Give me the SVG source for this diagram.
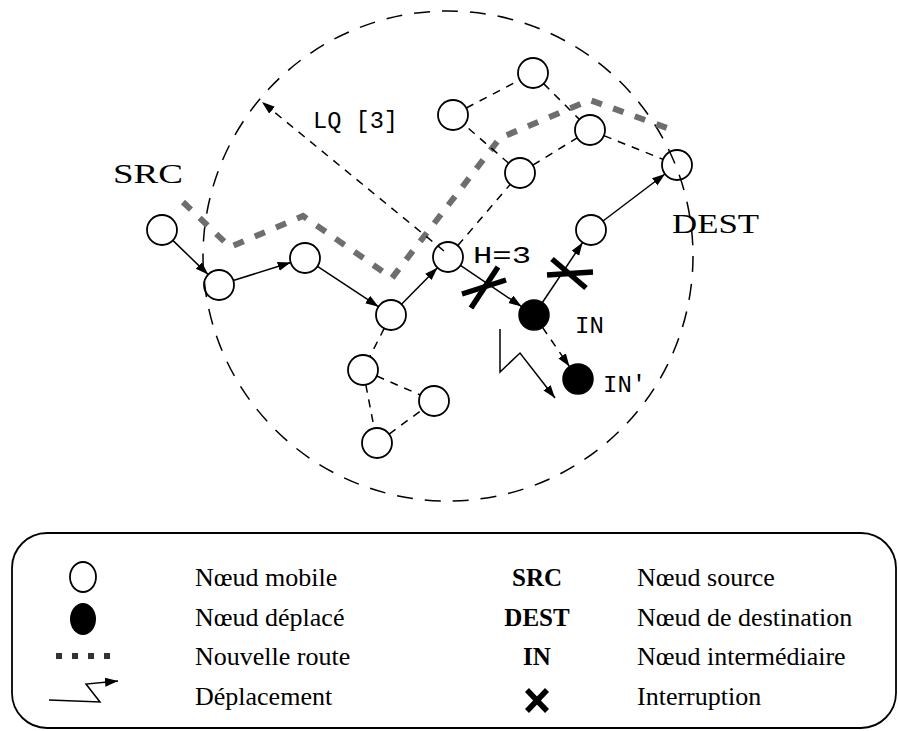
<svg xmlns="http://www.w3.org/2000/svg" width="898" height="731" viewBox="0 0 898 731">
<defs>
<marker id="ah" markerUnits="userSpaceOnUse" markerWidth="14" markerHeight="10" refX="13" refY="4.5" orient="auto">
<path d="M0,0 L13,4.5 L0,9 z" fill="#000"/>
</marker>
</defs>
<style>
.node{fill:none;stroke:#000;stroke-width:1.8}
.moved{fill:#000;stroke:#000;stroke-width:1.5}
.solid{stroke:#000;stroke-width:1.5;fill:none}
.dash{stroke:#000;stroke-width:1.5;fill:none;stroke-dasharray:8 7}
.route{stroke:#6e6e6e;stroke-width:6;fill:none;stroke-dasharray:11 12}
.cut{stroke:#000;stroke-width:5.5;stroke-linecap:butt}
.lbl{font-family:"Liberation Serif","Times New Roman",serif;fill:#000}
.mono{font-family:"Liberation Mono","Courier New",monospace;fill:#000}
.leg{font-family:"Liberation Serif","Times New Roman",serif;font-size:26px;fill:#000}
.legb{font-family:"Liberation Serif","Times New Roman",serif;font-size:25px;font-weight:bold;fill:#000;text-anchor:middle}
</style>
<rect width="898" height="731" fill="#fff"/>

<g id="range">
<circle cx="448" cy="256" r="245" fill="none" stroke="#000" stroke-width="1.5" stroke-dasharray="16 12"/>
</g>

<g id="route">
<path class="route" d="M183,202 L230,247 L303,216 L392,278 L500,138 L590,100 L667,128"/>
</g>

<g id="connectors">
<line class="solid" x1="172.8" y1="240.4" x2="208.2" y2="274.6" marker-end="url(#ah)"/>
<line class="solid" x1="233.3" y1="280.5" x2="290.7" y2="262.5" marker-end="url(#ah)"/>
<line class="solid" x1="317.5" y1="266.3" x2="378.5" y2="306.7" marker-end="url(#ah)"/>
<line class="solid" x1="401.5" y1="304.3" x2="437.5" y2="267.7" marker-end="url(#ah)"/>
<line class="solid" x1="460.4" y1="265.4" x2="521.6" y2="306.6" marker-end="url(#ah)"/>
<line class="solid" x1="542.4" y1="302.5" x2="582.6" y2="242.5" marker-end="url(#ah)"/>
<line class="solid" x1="603" y1="221" x2="665" y2="174" marker-end="url(#ah)"/>
<line class="dash" x1="457.8" y1="245.6" x2="510.2" y2="184.4"/>
<line class="dash" x1="508.7" y1="163.2" x2="464.3" y2="124.8"/>
<line class="dash" x1="466.3" y1="108" x2="519.7" y2="80"/>
<line class="dash" x1="543.6" y1="83.6" x2="579.4" y2="119.4"/>
<line class="dash" x1="532.8" y1="165.2" x2="577.2" y2="137.8"/>
<line class="dash" x1="603.9" y1="135.6" x2="663.1" y2="159.4"/>
<line class="dash" x1="384.2" y1="328.4" x2="369.8" y2="356.6"/>
<line class="dash" x1="376.7" y1="376" x2="420.3" y2="395"/>
<line class="dash" x1="365.8" y1="384.7" x2="374.2" y2="428.3"/>
<line class="dash" x1="389.1" y1="434.1" x2="421.9" y2="409.9"/>
<line class="dash" x1="542.5" y1="327.4" x2="569.5" y2="366.6" marker-end="url(#ah)"/>
<line class="dash" x1="444" y1="251" x2="262" y2="102" marker-end="url(#ah)"/>
<polyline class="solid" points="500,329 500,372 520,353 555,398" marker-end="url(#ah)"/>
<g id="cut1">
<line class="cut" x1="462" y1="294" x2="506" y2="280"/>
<line class="cut" x1="471" y1="308" x2="498" y2="267"/>
</g>
<g id="cut2">
<line class="cut" x1="547" y1="275" x2="593" y2="272"/>
<line class="cut" x1="552" y1="259" x2="586" y2="288"/>
</g>
</g>

<g id="n-src"><circle class="node" cx="162" cy="230" r="15"/></g>
<g id="n2"><circle class="node" cx="219" cy="285" r="15"/></g>
<g id="n3"><circle class="node" cx="305" cy="258" r="15"/></g>
<g id="n4"><circle class="node" cx="391" cy="315" r="15"/></g>
<g id="n5"><circle class="node" cx="448" cy="257" r="15"/></g>
<g id="n-in"><circle class="moved" cx="534" cy="315" r="15"/></g>
<g id="n-in2"><circle class="moved" cx="578" cy="379" r="15"/></g>
<g id="n6"><circle class="node" cx="591" cy="230" r="15"/></g>
<g id="n-dest"><circle class="node" cx="677" cy="165" r="15"/></g>
<g id="n7"><circle class="node" cx="520" cy="173" r="15"/></g>
<g id="n8"><circle class="node" cx="453" cy="115" r="15"/></g>
<g id="n9"><circle class="node" cx="533" cy="73" r="15"/></g>
<g id="n10"><circle class="node" cx="590" cy="130" r="15"/></g>
<g id="n11"><circle class="node" cx="363" cy="370" r="15"/></g>
<g id="n12"><circle class="node" cx="434" cy="401" r="15"/></g>
<g id="n13"><circle class="node" cx="377" cy="443" r="15"/></g>

<g id="labels">
<text class="lbl" x="113" y="183" font-size="28" textLength="70" lengthAdjust="spacingAndGlyphs">SRC</text>
<text class="lbl" x="672" y="233" font-size="28" textLength="87" lengthAdjust="spacingAndGlyphs">DEST</text>
<text class="mono" x="313" y="128" font-size="24" textLength="85" lengthAdjust="spacingAndGlyphs">LQ [3]</text>
<text class="mono" x="473" y="263" font-size="24" textLength="58" lengthAdjust="spacingAndGlyphs">H=3</text>
<text class="mono" x="575" y="333" font-size="24">IN</text>
<text class="mono" x="603" y="392" font-size="24">IN'</text>
</g>

<g id="legend">
<rect x="12" y="533" width="884" height="195" rx="35" ry="35" fill="none" stroke="#000" stroke-width="1.8"/>
<ellipse cx="83" cy="577" rx="13" ry="15" fill="none" stroke="#000" stroke-width="1.8"/>
<ellipse cx="83" cy="619" rx="13" ry="16" fill="#000"/>
<g fill="#333">
<rect x="56" y="653" width="6" height="6"/>
<rect x="72" y="653" width="6" height="6"/>
<rect x="88" y="653" width="6" height="6"/>
<rect x="104" y="653" width="6" height="6"/>
</g>
<polyline class="solid" points="49,700 100,702 86,684 118,681" marker-end="url(#ah)"/>
<text class="leg" x="195" y="586">Nœud mobile</text>
<text class="leg" x="195" y="626">Nœud déplacé</text>
<text class="leg" x="195" y="665">Nouvelle route</text>
<text class="leg" x="195" y="705">Déplacement</text>
<text class="legb" x="537" y="586">SRC</text>
<text class="legb" x="537" y="626">DEST</text>
<text class="legb" x="537" y="665">IN</text>
<g stroke="#000" stroke-width="5.5">
<line x1="527" y1="690" x2="547" y2="711"/>
<line x1="547" y1="690" x2="527" y2="711"/>
</g>
<text class="leg" x="637" y="586">Nœud source</text>
<text class="leg" x="637" y="626">Nœud de destination</text>
<text class="leg" x="637" y="665">Nœud intermédiaire</text>
<text class="leg" x="637" y="705">Interruption</text>
</g>
</svg>
